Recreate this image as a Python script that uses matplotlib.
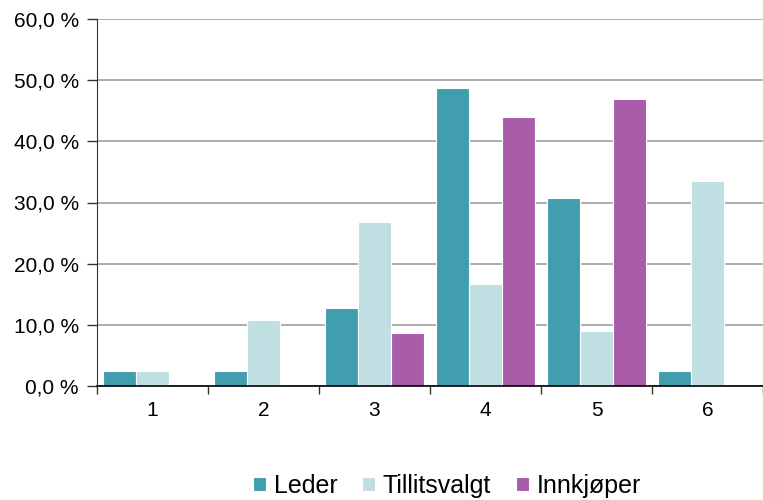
import numpy as np
import matplotlib
matplotlib.use("Agg")
import matplotlib.pyplot as plt
from matplotlib.ticker import FuncFormatter, FixedLocator

# data (percent)
kategorier = ["1", "2", "3", "4", "5", "6"]
leder = [2.5, 2.5, 12.7, 48.7, 30.7, 2.5]
tillitsvalgt = [2.4, 10.8, 26.8, 16.7, 9.0, 33.5]
innkjoper = [0.0, 0.0, 8.7, 44.0, 47.0, 0.0]

serier = ["Leder", "Tillitsvalgt", "Innkjøper"]
farger = ["#409EAF", "#BFDFE3", "#A95CA9"]

plt.rcParams['font.family'] = ['Liberation Sans', 'DejaVu Sans']

fig = plt.figure(figsize=(7.63, 5.0), dpi=100)
ax = fig.add_axes([0.127, 0.228, 0.873, 0.734])

x = np.arange(1, len(kategorier) + 1)
bredde = 0.29
steg = 0.297
for i, (verdier, navn, farge) in enumerate(zip([leder, tillitsvalgt, innkjoper], serier, farger)):
    ax.bar(x + (i - 1) * steg, verdier, bredde, color=farge, edgecolor="white",
           linewidth=0.8, label=navn)

ax.set_xlim(0.5, 6.5)
ax.set_ylim(0, 60)
ax.set_yticks(np.arange(0, 61, 10))
ax.yaxis.set_major_formatter(FuncFormatter(lambda v, p: f"{v:.1f} %".replace(".", ",")))
ax.set_xticks(x)
ax.set_xticklabels(kategorier)
ax.xaxis.set_minor_locator(FixedLocator(np.arange(0.5, 6.6, 1.0)))
ax.tick_params(axis="x", which="major", length=0, labelsize=15, pad=11)
ax.tick_params(axis="x", which="minor", length=6, width=1, color="#333333", direction="out")
ax.tick_params(axis="y", length=7, width=1, color="#333333", labelsize=15, pad=6)

ax.grid(axis="y", color="#A0A0A0", linewidth=1.2)
ax.set_axisbelow(True)
for s in ["top", "right"]:
    ax.spines[s].set_visible(False)
ax.spines["left"].set_color("#333333")
ax.spines["bottom"].set_color("#000000")
ax.spines["bottom"].set_linewidth(1.2)

fig.legend(loc="center", bbox_to_anchor=(0.586, 0.028), ncol=3, frameon=False,
           fontsize=18, handlelength=0.52, handleheight=0.52, handletextpad=0.3,
           columnspacing=1.0, borderaxespad=0, borderpad=0)

fig.savefig("out.png", dpi=100)
